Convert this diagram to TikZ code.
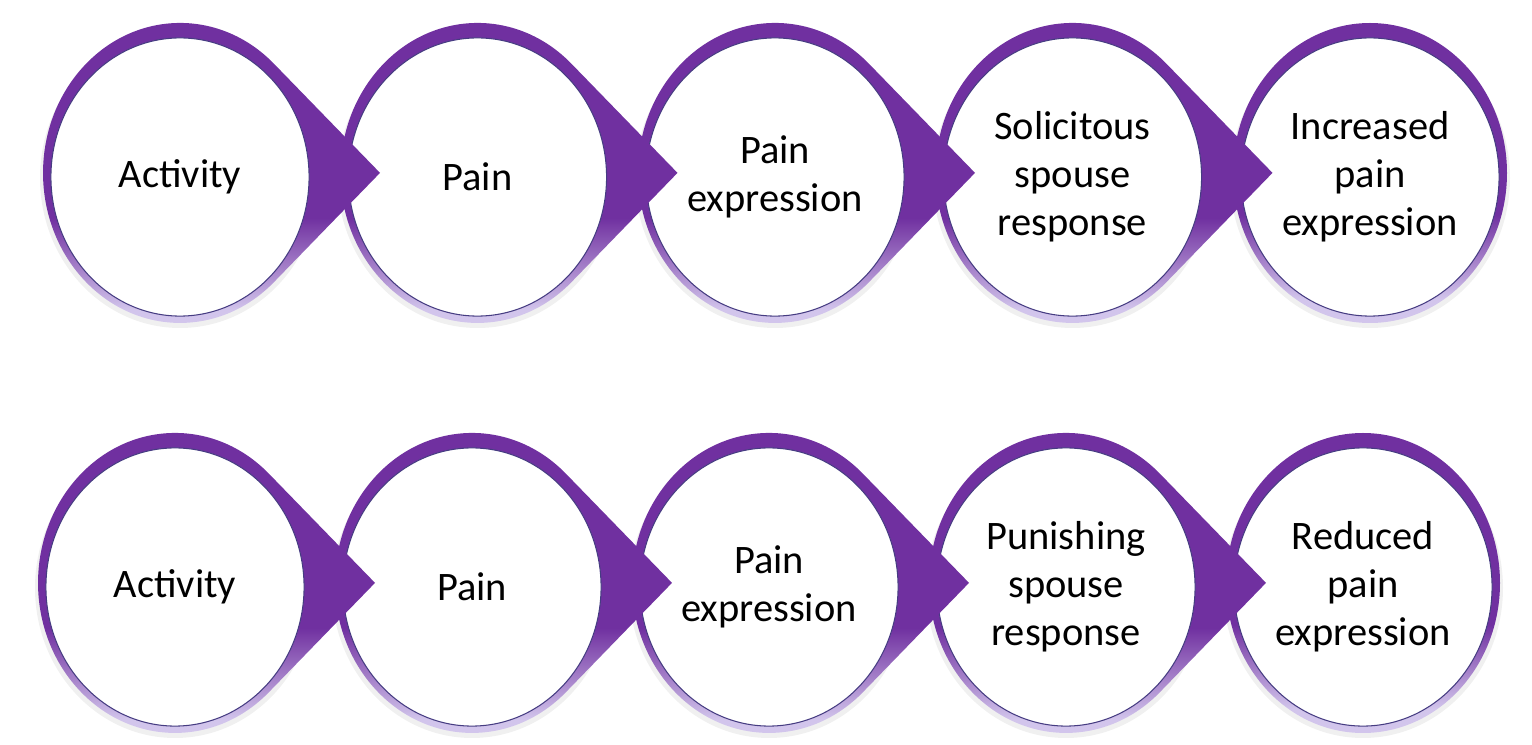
\documentclass[tikz,border=0pt]{standalone}
\usepackage{fontspec}
\setmainfont{Carlito}
\usepackage{tikz}
\usetikzlibrary{shapes.geometric}

\definecolor{ringpurple}{RGB}{112,48,160}
\definecolor{ringlilac}{RGB}{210,197,236}
\definecolor{discline}{RGB}{70,60,130}
\pgfdeclareverticalshading{ringfade}{100bp}{color(0bp)=(ringlilac); color(29bp)=(ringlilac); color(43bp)=(ringpurple); color(100bp)=(ringpurple)}

\begin{document}
\begin{tikzpicture}[x=0.01cm,y=0.01cm,
		disc/.style={ellipse,fill=white,draw=discline,line width=0.3pt,minimum width=2.58cm,minimum height=2.78cm,inner sep=0pt,align=center,font=\fontsize{11.5}{13.6}\selectfont},
		ring/.style={shading=ringfade},
		halo/.style={black,opacity=0.06}
		]
	\useasboundingbox (0,0) rectangle (1532,745);
	\foreach \n/\x/\y/\tip/\txt in {
			top5/1370/572/0/{Increased\\pain\\expression},
			top4/1072.5/572/1/{Solicitous\\spouse\\response},
			top3/775/572/1/{Pain\\expression},
			top2/477.5/572/1/Pain,
			top1/180/572/1/Activity,
			bot5/1363/162/0/{Reduced\\pain\\expression},
			bot4/1066/162/1/{Punishing\\spouse\\response},
			bot3/769/162/1/{Pain\\expression},
			bot2/472/162/1/Pain,
			bot1/175/162/1/Activity}
	{
		\coordinate (c\n) at (\x,\y);
		\fill[halo] (c\n) ++(0,-5) ellipse[x radius=140,y radius=150];
		\ifnum\tip=0
			\shade[ring] (c\n) ellipse[x radius=137,y radius=150];
		\else
			\shade[ring] (c\n) ++(93.8,109.4) arc[start angle=46.8,end angle=313.2,x radius=137,y radius=150]
				-- ++(106.2,109.4) -- cycle;
		\fi
		\node[disc,yshift=-0.04cm] (\n) at (c\n) {\txt};
	}
\end{tikzpicture}
\end{document}
